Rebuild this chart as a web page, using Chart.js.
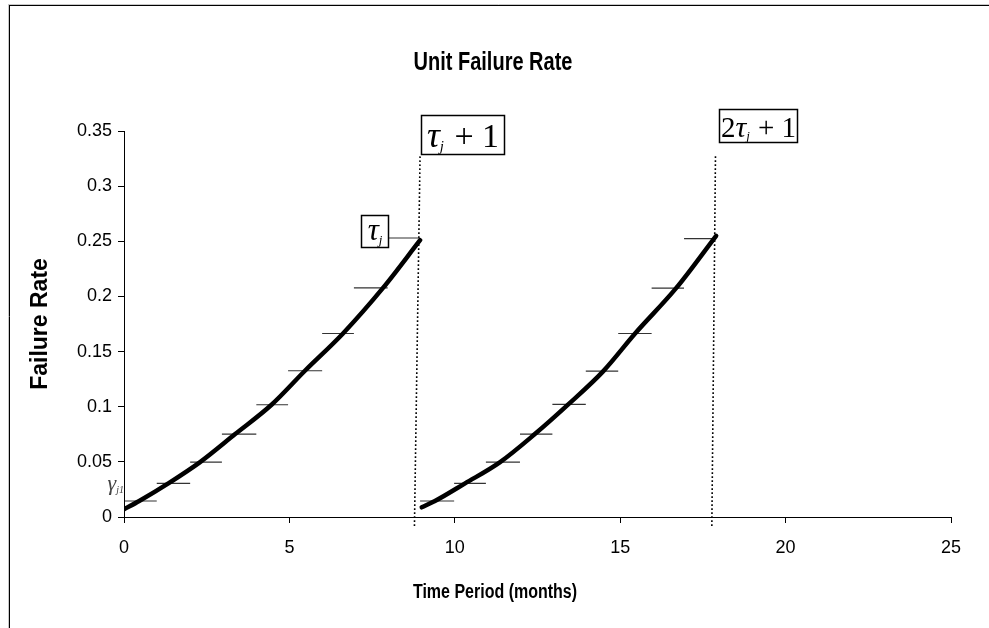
<!DOCTYPE html>
<html>
<head>
<meta charset="utf-8">
<script src="https://cdn.jsdelivr.net/npm/chart.js@4/dist/chart.umd.min.js"></script>
<style>
html,body{margin:0;padding:0;background:#fff;}
#c{display:block;}
</style>
</head>
<body>
<canvas id="c" width="989" height="628"></canvas>
<script>
// ---- data ----
const curve1X = [0.0, 0.46, 1.34, 2.3, 3.36, 4.46, 5.47, 6.62, 7.83, 8.95];
const curve1Y = [0.007, 0.0145, 0.0305, 0.0498, 0.0752, 0.1018, 0.1326, 0.1664, 0.2077, 0.251];
const curve2X = [9.0, 9.4, 10.31, 11.37, 12.42, 13.43, 14.49, 15.45, 16.69, 17.9];
const curve2Y = [0.0088, 0.0145, 0.0305, 0.0498, 0.0752, 0.1021, 0.1323, 0.1664, 0.2075, 0.255];
const step1Edges = [0.03, 0.99, 2.0, 2.96, 4.0, 4.96, 5.99, 6.95, 7.97, 8.95];
const step1Values = [0.0145, 0.0305, 0.0498, 0.0752, 0.1018, 0.1326, 0.1664, 0.2077, 0.253];
const step2Edges = [8.95, 9.98, 10.94, 11.97, 12.95, 13.96, 14.94, 15.95, 16.93, 17.9];
const step2Values = [0.0145, 0.0305, 0.0498, 0.0752, 0.1021, 0.1323, 0.1664, 0.2075, 0.2525];
const divider1X = [8.95, 8.78];
const divider2X = [17.88, 17.77];
const dividerY = [0.327, -0.0085];
const xTicks = [0, 5, 10, 15, 20, 25];
const yTicks = [0, 0.05, 0.1, 0.15, 0.2, 0.25, 0.3, 0.35];
const titleText = 'Unit Failure Rate';
const xTitleText = 'Time Period (months)';
const yTitleText = 'Failure Rate';
// annotation anchors (data coords of label top-left / baseline)
const noteTau1 = {x: 8.98, y: 0.3642};
const noteTau = {x: 7.16, y: 0.2736};
const note2Tau1 = {x: 17.99, y: 0.3697};
const noteGamma = {x: -0.5, y: 0.0245};

// ---- helpers ----
const zip = (xs, ys) => xs.map((x, i) => ({x: x, y: ys[i]}));
function stepPoints(edges, vals) {
  const pts = [];
  vals.forEach((v, i) => {
    pts.push({x: edges[i], y: v});
    pts.push({x: edges[i + 1], y: v});
    pts.push({x: edges[i + 1], y: null});
  });
  return pts;
}

const SANS = "'Liberation Sans', Arial, sans-serif";
const SERIF = "'Liberation Serif', 'Times New Roman', serif";
const STRETCH = 1.25; // reference text is vertically stretched

function drawRich(ctx, parts, x, baseline) {
  let cx = x;
  parts.forEach(p => {
    ctx.font = (p.italic ? 'italic ' : '') + p.size + 'px ' + SERIF;
    ctx.fillStyle = p.color || '#000';
    ctx.textBaseline = 'alphabetic';
    ctx.textAlign = 'left';
    ctx.fillText(p.t, cx, baseline + (p.dy || 0));
    cx += ctx.measureText(p.t).width + (p.gap || 0);
  });
  return cx - x;
}
function measureRich(ctx, parts) {
  let w = 0;
  parts.forEach(p => {
    ctx.font = (p.italic ? 'italic ' : '') + p.size + 'px ' + SERIF;
    w += ctx.measureText(p.t).width + (p.gap || 0);
  });
  return w;
}
function stretchedText(ctx, text, x, y, font) {
  ctx.save();
  ctx.translate(x, y);
  ctx.scale(1, STRETCH);
  ctx.font = font;
  ctx.fillStyle = '#000';
  ctx.textAlign = 'center';
  ctx.textBaseline = 'middle';
  ctx.fillText(text, 0, 0);
  ctx.restore();
}

const framePlugin = {
  id: 'frame',
  beforeDraw(chart) {
    const ctx = chart.ctx;
    ctx.save();
    ctx.fillStyle = '#fff';
    ctx.fillRect(0, 0, chart.width, chart.height);
    ctx.strokeStyle = '#c8c8c8';
    ctx.lineWidth = 1;
    ctx.beginPath();
    ctx.moveTo(8, 4.5); ctx.lineTo(chart.width, 4.5);
    ctx.moveTo(8.5, 5); ctx.lineTo(8.5, chart.height);
    ctx.stroke();
    ctx.strokeStyle = '#000';
    ctx.beginPath();
    ctx.moveTo(9, 5.5); ctx.lineTo(chart.width, 5.5);
    ctx.moveTo(9.5, 5); ctx.lineTo(9.5, chart.height);
    ctx.stroke();
    ctx.restore();
  }
};

const notesPlugin = {
  id: 'notes',
  afterDraw(chart) {
    const ctx = chart.ctx;
    const xs = chart.scales.x, ys = chart.scales.y;
    ctx.save();
    // chart title and x axis title
    stretchedText(ctx, titleText, 493, 63, 'bold 20px ' + SANS);
    stretchedText(ctx, xTitleText, 495, 592, 'bold 16px ' + SANS);

    function box(anchor, parts, w, h, base) {
      const left = Math.round(xs.getPixelForValue(anchor.x)) + 0.5;
      const top = Math.round(ys.getPixelForValue(anchor.y)) + 0.5;
      ctx.fillStyle = '#fff';
      ctx.fillRect(left, top, w, h);
      ctx.lineWidth = 1.5;
      ctx.strokeStyle = '#000';
      ctx.strokeRect(left, top, w, h);
      const tw = measureRich(ctx, parts);
      drawRich(ctx, parts, left + (w - tw) / 2, top + base);
    }
    box(noteTau1, [
      {t: '\u03C4', size: 36, italic: true},
      {t: 'j', size: 15, italic: true, dy: 4, gap: 2},
      {t: ' + 1', size: 34}
    ], 83, 39, 31);
    box(noteTau, [
      {t: '\u03C4', size: 31, italic: true},
      {t: 'j', size: 13, italic: true, dy: 4}
    ], 27, 32, 24);
    box(note2Tau1, [
      {t: '2', size: 29},
      {t: '\u03C4', size: 30, italic: true},
      {t: 'j', size: 13, italic: true, dy: 3, gap: 1},
      {t: ' + 1', size: 29}
    ], 78, 33, 27);
    // gamma label
    const gx = xs.getPixelForValue(noteGamma.x);
    const gy = ys.getPixelForValue(noteGamma.y);
    drawRich(ctx, [
      {t: '\u03B3', size: 22, italic: true, color: '#444'},
      {t: 'j1', size: 10, italic: true, dy: 3, color: '#444'}
    ], gx, gy);
    ctx.restore();
  }
};

const tickFont = {family: SANS, size: 18};

new Chart(document.getElementById('c').getContext('2d'), {
  type: 'scatter',
  data: {
    datasets: [
      {data: zip(curve1X, curve1Y), showLine: true, borderColor: '#000', borderWidth: 4.5,
       pointRadius: 0, cubicInterpolationMode: 'monotone', borderCapStyle: 'round', borderJoinStyle: 'round', order: 0},
      {data: zip(curve2X, curve2Y), showLine: true, borderColor: '#000', borderWidth: 4.5,
       pointRadius: 0, cubicInterpolationMode: 'monotone', borderCapStyle: 'round', borderJoinStyle: 'round', order: 0},
      {data: stepPoints(step1Edges, step1Values), showLine: true, spanGaps: false, borderColor: '#333',
       borderWidth: 1.2, pointRadius: 0, order: 1},
      {data: stepPoints(step2Edges, step2Values), showLine: true, spanGaps: false, borderColor: '#333',
       borderWidth: 1.2, pointRadius: 0, order: 1},
      {data: zip(divider1X, dividerY), showLine: true, borderColor: '#000', borderWidth: 1.6,
       borderDash: [1.6, 2.4], pointRadius: 0, clip: false, order: 2},
      {data: zip(divider2X, dividerY), showLine: true, borderColor: '#000', borderWidth: 1.6,
       borderDash: [1.6, 2.4], pointRadius: 0, clip: false, order: 2}
    ]
  },
  options: {
    responsive: false,
    animation: false,
    devicePixelRatio: 1,
    layout: {padding: {left: 0, right: 38, top: 131, bottom: 0}},
    plugins: {
      legend: {display: false},
      tooltip: {enabled: false},
      title: {display: false}
    },
    scales: {
      x: {
        type: 'linear', min: 0, max: 25,
        afterBuildTicks: s => { s.ticks = xTicks.map(v => ({value: v})); },
        afterFit: s => { s.height = 111; },
        grid: {display: true, drawOnChartArea: false, drawTicks: true, tickLength: 6, color: '#000', lineWidth: 1},
        border: {display: true, color: '#000', width: 1},
        ticks: {font: tickFont, color: '#000', padding: 14, maxRotation: 0, autoSkip: false,
                callback: v => String(v)},
        title: {display: false}
      },
      y: {
        type: 'linear', min: 0, max: 0.35,
        afterBuildTicks: s => { s.ticks = yTicks.map(v => ({value: v})); },
        afterFit: s => { s.width = 124; },
        grid: {display: true, drawOnChartArea: false, drawTicks: true, tickLength: 6, color: '#000', lineWidth: 1},
        border: {display: true, color: '#000', width: 1},
        ticks: {font: tickFont, color: '#000', padding: 6, autoSkip: false,
                callback: v => String(Math.round(v * 100) / 100)},
        title: {display: true, text: yTitleText, color: '#000',
                font: {family: SANS, size: 23, weight: 'bold', lineHeight: 1.2},
                padding: {top: 27, bottom: 0}}
      }
    }
  },
  plugins: [framePlugin, notesPlugin]
});
</script>
</body>
</html>
